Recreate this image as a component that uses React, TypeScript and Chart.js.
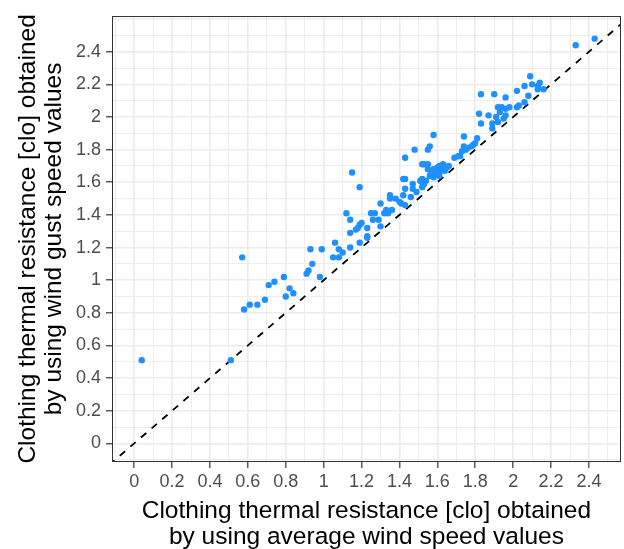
import React, { useEffect, useRef } from "react";
import { Chart, registerables } from "chart.js";

Chart.register(...registerables);

// Clothing thermal resistance [clo] — average wind speed (x) vs wind gust speed (y)
const avgWind: number[] = [
  0.04, 0.51, 0.57, 0.58, 0.61, 0.65, 0.69, 0.71, 0.74, 0.79,
  0.80, 0.82, 0.84, 0.91, 0.92, 0.93, 0.94, 0.98, 0.99, 1.05,
  1.06, 1.08, 1.08, 1.10, 1.12, 1.14, 1.14, 1.14, 1.15, 1.17,
  1.18, 1.19, 1.19, 1.19, 1.20, 1.23, 1.23, 1.23, 1.25, 1.26,
  1.27, 1.29, 1.30, 1.30, 1.32, 1.33, 1.34, 1.35, 1.35, 1.36,
  1.38, 1.40, 1.41, 1.42, 1.42, 1.43, 1.43, 1.43, 1.46, 1.47,
  1.47, 1.48, 1.49, 1.51, 1.52, 1.52, 1.52, 1.53, 1.54, 1.55,
  1.55, 1.55, 1.56, 1.56, 1.58, 1.58, 1.58, 1.59, 1.60, 1.61,
  1.61, 1.62, 1.63, 1.63, 1.64, 1.66, 1.69, 1.71, 1.72, 1.73,
  1.74, 1.74, 1.75, 1.76, 1.78, 1.79, 1.80, 1.81, 1.82, 1.83,
  1.83, 1.87, 1.89, 1.89, 1.90, 1.91, 1.92, 1.92, 1.93, 1.94,
  1.95, 1.96, 1.96, 1.96, 1.98, 2.02, 2.02, 2.03, 2.06, 2.06,
  2.08, 2.09, 2.10, 2.13, 2.13, 2.14, 2.16, 2.33, 2.43,
  1.53, 1.43, 1.57, 1.60, 1.65, 1.52,
];
const gustWind: number[] = [
  0.51, 0.51, 1.14, 0.82, 0.85, 0.85, 0.88, 0.97, 0.99, 1.02,
  0.90, 0.95, 0.92, 1.04, 1.06, 1.19, 1.10, 1.02, 1.19, 1.14,
  1.23, 1.19, 1.14, 1.17, 1.41, 1.37, 1.29, 1.20, 1.66, 1.31,
  1.32, 1.57, 1.23, 1.34, 1.35, 1.32, 1.27, 1.26, 1.41, 1.37,
  1.41, 1.37, 1.47, 1.33, 1.41, 1.43, 1.41, 1.52, 1.50, 1.43,
  1.50, 1.48, 1.47, 1.62, 1.52, 1.75, 1.56, 1.46, 1.51, 1.59,
  1.56, 1.80, 1.54, 1.61, 1.71, 1.62, 1.57, 1.59, 1.61, 1.71,
  1.68, 1.80, 1.82, 1.64, 1.89, 1.68, 1.63, 1.65, 1.67, 1.70,
  1.64, 1.67, 1.71, 1.69, 1.67, 1.70, 1.75, 1.76, 1.76, 1.79,
  1.88, 1.82, 1.80, 1.81, 1.82, 1.83, 1.84, 1.87, 2.02, 2.14,
  1.96, 2.01, 1.93, 1.96, 2.14, 2.00, 2.06, 1.97, 2.03, 2.06,
  1.99, 2.05, 2.12, 2.01, 2.06, 2.16, 2.06, 2.07, 2.19, 2.09,
  2.13, 2.25, 2.20, 2.19, 2.17, 2.21, 2.17, 2.44, 2.48,
  1.71, 1.62, 1.66, 1.69, 1.69, 1.60,
];

// y = x reference line end points
const identityLine: number[] = [-0.3, 2.8];

// labelled breaks: 0 .. 2.4 every 0.2
const breakMax = 2.4;

const xTitle: string[] = [
  "Clothing thermal resistance [clo] obtained",
  "by using average wind speed values",
];
const yTitle: string[] = [
  "Clothing thermal resistance [clo] obtained",
  "by using wind gust speed values",
];

const xRange = { min: -0.117, max: 2.568 };
const yRange = { min: -0.114, max: 2.62 };

const FONT = "'Liberation Sans', Arial, sans-serif";

const isMajor = (v: number) => Math.round(v * 10) % 2 === 0;
const isLabelled = (v: number) => isMajor(v) && v >= -0.01 && v <= breakMax + 0.01;

const panelBorder = {
  id: "panelBorder",
  afterDraw(chart: any) {
    const { ctx, chartArea } = chart;
    ctx.save();
    ctx.strokeStyle = "#333333";
    ctx.lineWidth = 1;
    ctx.strokeRect(
      Math.round(chartArea.left) + 0.5,
      Math.round(chartArea.top) + 0.5,
      Math.round(chartArea.right - chartArea.left) - 1,
      Math.round(chartArea.bottom - chartArea.top) - 1
    );
    ctx.restore();
  },
};

export default function App() {
  const ref = useRef<HTMLCanvasElement | null>(null);

  useEffect(() => {
    if (!ref.current) return;
    const gridOpts = {
      color: "#EBEBEB",
      lineWidth: (c: any) => (c.tick && isMajor(c.tick.value) ? 1.6 : 0.9),
      tickColor: (c: any) =>
        c.tick && isLabelled(c.tick.value) ? "#333333" : "rgba(0,0,0,0)",
      tickLength: 6,
      tickWidth: 1.2,
      drawTicks: true,
    };
    const tickLabel = (v: any) => {
      const n = Number(v);
      if (!isLabelled(n)) return "";
      const r = Math.round(n * 10) / 10;
      return String(r);
    };
    const titleFont = { family: FONT, size: 24.5, lineHeight: 1.06 };
    const chart = new Chart(ref.current, {
      type: "scatter",
      data: {
        datasets: [
          {
            type: "scatter",
            data: avgWind.map((x, i) => ({ x, y: gustWind[i] })),
            backgroundColor: "#1E90FF",
            borderWidth: 0,
            pointRadius: 3.2,
            pointHoverRadius: 3.2,
          },
          {
            type: "line",
            data: identityLine.map((v) => ({ x: v, y: v })),
            borderColor: "#000000",
            borderWidth: 1.8,
            borderDash: [7, 7],
            pointRadius: 0,
            fill: false,
          } as any,
        ],
      },
      options: {
        responsive: false,
        animation: false,
        events: [],
        layout: { padding: { left: 0, top: 12, right: 2, bottom: 0 } },
        plugins: { legend: { display: false }, tooltip: { enabled: false } },
        scales: {
          x: {
            type: "linear",
            min: xRange.min,
            max: xRange.max,
            border: { display: false },
            grid: gridOpts as any,
            ticks: {
              stepSize: 0.1,
              includeBounds: false,
              autoSkip: false,
              maxRotation: 0,
              minRotation: 0,
              padding: 3,
              color: "#4D4D4D",
              font: { family: FONT, size: 18 },
              callback: tickLabel,
            },
            title: {
              display: true,
              text: xTitle,
              color: "#000000",
              font: titleFont,
              padding: { top: 0, bottom: -1.4 },
            },
            afterFit: (s: any) => {
              s.height = 87;
            },
          },
          y: {
            type: "linear",
            min: yRange.min,
            max: yRange.max,
            border: { display: false },
            grid: gridOpts as any,
            ticks: {
              stepSize: 0.1,
              includeBounds: false,
              autoSkip: false,
              padding: 5,
              color: "#4D4D4D",
              font: { family: FONT, size: 18 },
              callback: tickLabel,
            },
            title: {
              display: true,
              text: yTitle,
              color: "#000000",
              font: titleFont,
              padding: { top: 15.5, bottom: 0 },
            },
            afterFit: (s: any) => {
              s.width = 112;
            },
          },
        },
      },
      plugins: [panelBorder],
    });
    return () => chart.destroy();
  }, []);

  return (
    <div style={{ position: "fixed", left: 0, top: 0, width: 624, height: 549, background: "#fff" }}>
      <canvas ref={ref} width={624} height={549} style={{ display: "block", width: 624, height: 549 }} />
    </div>
  );
}
